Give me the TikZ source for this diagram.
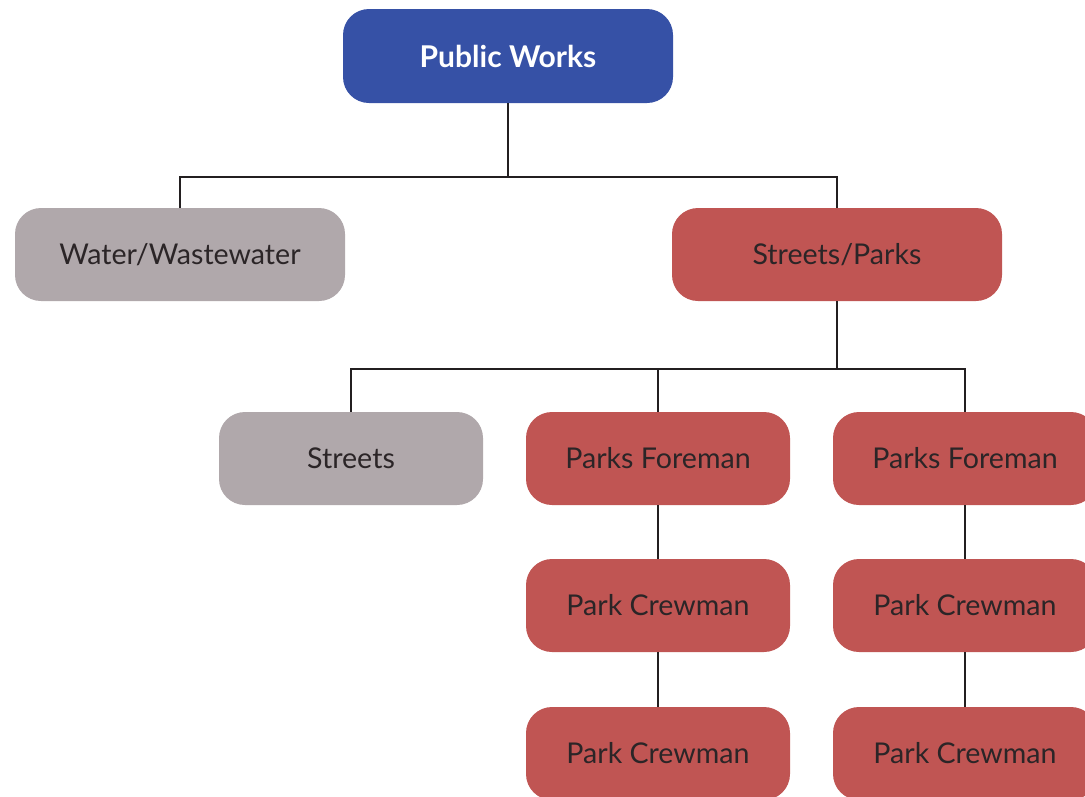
\documentclass[tikz,border=0pt]{standalone}
\usepackage{fontspec}
\setmainfont{Lato}
\definecolor{pwblue}{HTML}{3651A6}
\definecolor{boxgray}{HTML}{B0A8AB}
\definecolor{boxred}{HTML}{C05553}
\definecolor{txt}{HTML}{2B2527}
\definecolor{linec}{HTML}{231F20}
\begin{document}
\begin{tikzpicture}[x=1pt,y=-1pt,
  box/.style={rounded corners=26pt, minimum height=93pt, inner sep=0pt, text=txt,
    font=\fontsize{28.6}{34}\selectfont},
  graybox/.style={box, fill=boxgray},
  redbox/.style={box, fill=boxred},
  bluebox/.style={box, fill=pwblue, text=white, font=\fontsize{30}{36}\selectfont\bfseries},
  conn/.style={draw=linec, line width=2.6pt}]
\useasboundingbox (0,0) rectangle (1085,796);
\clip (0,0) rectangle (1085,796);
\node[bluebox, minimum width=330pt, minimum height=94pt] (pw) at (508,56) {Public Works};
\node[graybox, minimum width=330pt] (ww) at (180,254.5) {Water/Wastewater};
\node[redbox, minimum width=330pt] (sp) at (837,254.5) {Streets/Parks};
\node[graybox, minimum width=264pt] (st) at (351,458.5) {Streets};
\node[redbox, minimum width=264pt] (pf1) at (658,458.5) {Parks Foreman};
\node[redbox, minimum width=264pt] (pf2) at (965,458.5) {Parks Foreman};
\node[redbox, minimum width=264pt] (pc1) at (658,605.5) {Park Crewman};
\node[redbox, minimum width=264pt] (pc2) at (965,605.5) {Park Crewman};
\node[redbox, minimum width=264pt] (pc3) at (658,753.5) {Park Crewman};
\node[redbox, minimum width=264pt] (pc4) at (965,753.5) {Park Crewman};
\coordinate (bus1) at (0,177);
\coordinate (bus2) at (0,369);
\draw[conn] (pw.south) -- (pw.south |- bus1);
\draw[conn] (ww.north) -- (ww.north |- bus1) -| (sp.north);
\draw[conn] (sp.south) -- (sp.south |- bus2);
\draw[conn] (st.north) -- (st.north |- bus2) -| (pf2.north);
\draw[conn] (pf1.north) -- (pf1.north |- bus2);
\draw[conn] (pf1.south) -- (pc1.north);
\draw[conn] (pc1.south) -- (pc3.north);
\draw[conn] (pf2.south) -- (pc2.north);
\draw[conn] (pc2.south) -- (pc4.north);
\end{tikzpicture}
\end{document}
